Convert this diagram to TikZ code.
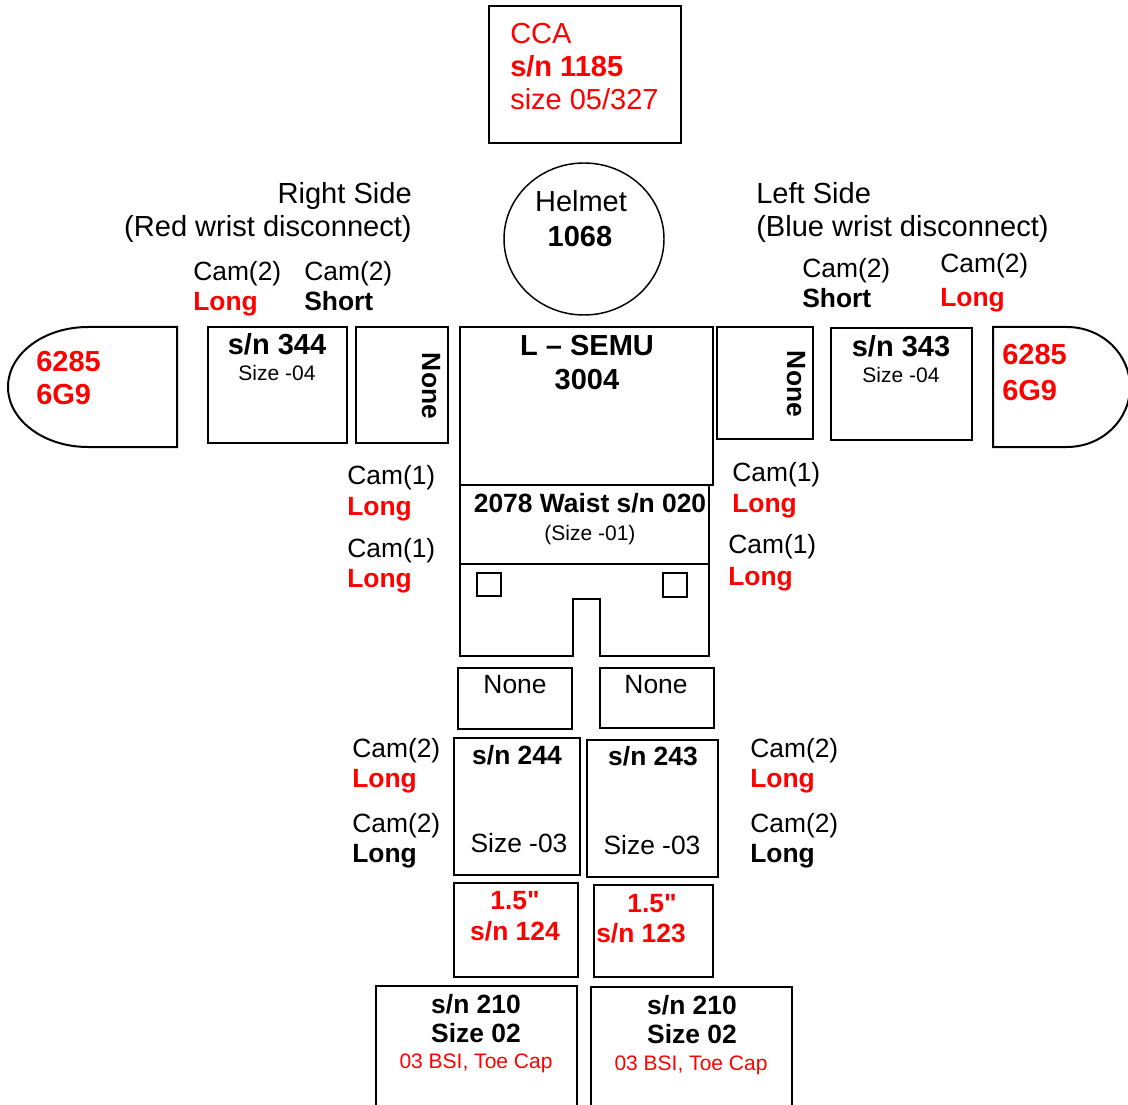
\documentclass[tikz,border=0pt]{standalone}
\usepackage{fontspec}
\setmainfont{Liberation Sans}
\newfontfamily\rawfont{Liberation Sans}
\usetikzlibrary{fit,shapes.geometric}
\definecolor{txtred}{RGB}{255,0,0}
\tikzset{
  box/.style={draw=black, line width=1.5pt, inner sep=0pt, rectangle},
  lw/.style={inner sep=0pt, anchor=base west},
  lc/.style={inner sep=0pt, anchor=base},
  le/.style={inner sep=0pt, anchor=base east},
  fbig/.style={font=\fontsize{21.75}{26}\selectfont},
  fbigb/.style={font=\fontsize{21.75}{26}\selectfont\bfseries},
  fside/.style={font=\fontsize{21.8}{26}\selectfont},
  fmed/.style={font=\fontsize{19.8}{24}\selectfont},
  fmedb/.style={font=\fontsize{19.8}{24}\selectfont\bfseries},
  fsml/.style={font=\fontsize{15.75}{19}\selectfont},
  rt/.style={text=txtred},
  outline/.style={draw=black, line width=1.5pt},
  smallsq/.style={draw=black, line width=1.2pt},
}
\begin{document}
\begin{tikzpicture}[x=0.75pt,y=-0.75pt]
\useasboundingbox (0,0) rectangle (1128,1105);
\clip (0,0) rectangle (1128,1105);
\fill[white] (0,0) rectangle (1128,1105);

% ---- CCA ----
\node[box, fit={(489,6) (681,143)}] (cca) {};
\node[lw, fbig, rt]  (cca1) at (510,44)  {CCA};
\node[lw, fbigb, rt] (cca2) at (510,77)  {s/n 1185};
\node[lw, fbig, rt]  (cca3) at (510,110) {size 05/327};

% ---- Helmet ----
\node[draw=black, line width=1.1pt, ellipse, inner sep=0pt,
      minimum width=120pt, minimum height=114pt] (helmet) at (584,239) {};
\node[lc, fbig]  (helm1) at (581,212) {Helmet};
\node[lc, fbigb] (helm2) at (580,247) {1068};

% ---- Side titles ----
\node[le, fside] (rs1) at (412,204) {Right Side};
\node[le, fside] (rs2) at (412,237) {(Red wrist disconnect)};
\node[lw, fside] (ls1) at (756,204) {Left Side};
\node[lw, fside] (ls2) at (756,237) {(Blue wrist disconnect)};

% ---- Arm cam labels ----
\node[lw, fmed]      (ac1) at (193,281) {Cam(2)};
\node[lw, fmedb, rt] (ac2) at (193,311) {Long};
\node[lw, fmed]      (ac3) at (304,281) {Cam(2)};
\node[lw, fmedb]     (ac4) at (304,311) {Short};
\node[lw, fmed]      (ac5) at (802,278) {Cam(2)};
\node[lw, fmedb]     (ac6) at (802,308) {Short};
\node[lw, fmed]      (ac7) at (940,273) {Cam(2)};
\node[lw, fmedb, rt] (ac8) at (940,307) {Long};

% ---- Gloves ----
\draw[outline] (177,327) -- (88,327)
   arc[start angle=270, end angle=90, x radius=80, y radius=60]
   -- (177,447) -- cycle;
\draw[outline] (993,327) -- (1067,327)
   arc[start angle=270, end angle=450, x radius=63, y radius=60]
   -- (993,447) -- cycle;
\node[lw, fbigb, rt] (gl1) at (36,372) {6285};
\node[lw, fbigb, rt] (gl2) at (36,405) {6G9};
\node[lw, fbigb, rt] (gr1) at (1002,365) {6285};
\node[lw, fbigb, rt] (gr2) at (1002,401) {6G9};

% ---- Arm boxes ----
\node[box, fit={(208,327) (347,443)}] (arml) {};
\node[lc, fbigb] (arml1) at (277,355) {s/n 344};
\node[lc, fsml]  (arml2) at (277,381) {Size -04};
\node[box, fit={(356,327) (448,443)}] (nonel) {};
\node[inner sep=0pt, fmedb, rotate=-90] (nonel1) at (431,386) {None};

\node[box, fit={(717,327) (813,439)}] (noner) {};
\node[inner sep=0pt, fmedb, rotate=-90] (noner1) at (796,384) {None};
\node[box, fit={(831,328) (972,440)}] (armr) {};
\node[lc, fbigb] (armr1) at (901,357) {s/n 343};
\node[lc, fsml]  (armr2) at (901,383) {Size -04};

% ---- Torso ----
\node[box, fit={(460,327) (713,485)}] (semu) {};
\node[lc, fbigb] (semu1) at (587,356) {L – SEMU};
\node[lc, fbigb] (semu2) at (587,390) {3004};

% ---- Waist ----
\draw[outline] (460,485) -- (460,656) -- (573,656) -- (573,599) -- (600,599)
   -- (600,656) -- (709,656) -- (709,485);
\draw[outline] (460,564) -- (709,564);
\draw[smallsq] (477,573) rectangle (501,596);
\draw[smallsq] (663,573) rectangle (687,597);
\node[lc, fmedb] (waist1) at (590,512) {2078 Waist s/n 020};
\node[lc, fsml]  (waist2) at (590,540) {(Size -01)};

% ---- Torso cam labels ----
\node[lw, fmed]      (tc1) at (347,484) {Cam(1)};
\node[lw, fmedb, rt] (tc2) at (347,515) {Long};
\node[lw, fmed]      (tc3) at (347,557) {Cam(1)};
\node[lw, fmedb, rt] (tc4) at (347,587) {Long};
\node[lw, fmed]      (tc5) at (732,481) {Cam(1)};
\node[lw, fmedb, rt] (tc6) at (732,512) {Long};
\node[lw, fmed]      (tc7) at (728,553) {Cam(1)};
\node[lw, fmedb, rt] (tc8) at (728,585) {Long};

% ---- Upper legs ----
\node[box, fit={(458,668) (572,729)}] (ulegl) {};
\node[lc, fmed] (ulegl1) at (515,693) {None};
\node[box, fit={(600,668) (714,728)}] (ulegr) {};
\node[lc, fmed] (ulegr1) at (656,693) {None};

% ---- Lower legs ----
\node[box, fit={(454,738) (580,875)}] (llegl) {};
\node[lc, fmedb] (llegl1) at (517,764) {s/n 244};
\node[lc, fmed]  (llegl2) at (519,852) {Size -03};
\node[box, fit={(587,740) (718,877)}] (llegr) {};
\node[lc, fmedb] (llegr1) at (653,765) {s/n 243};
\node[lc, fmed]  (llegr2) at (652,854) {Size -03};

% ---- Leg cam labels ----
\node[lw, fmed]      (lc1) at (352,757) {Cam(2)};
\node[lw, fmedb, rt] (lc2) at (352,787) {Long};
\node[lw, fmed]      (lc3) at (352,832) {Cam(2)};
\node[lw, fmedb]     (lc4) at (352,862) {Long};
\node[lw, fmed]      (lc5) at (750,757) {Cam(2)};
\node[lw, fmedb, rt] (lc6) at (750,787) {Long};
\node[lw, fmed]      (lc7) at (750,832) {Cam(2)};
\node[lw, fmedb]     (lc8) at (750,862) {Long};

% ---- Ankle boxes ----
\node[box, fit={(454,883) (578,977)}] (ankl) {};
\node[lc, fmedb, rt] (ankl1) at (515,909) {\rawfont 1.5"};
\node[lc, fmedb, rt] (ankl2) at (515,940) {s/n 124};
\node[box, fit={(594,885) (713,977)}] (ankr) {};
\node[lc, fmedb, rt] (ankr1) at (652,912) {\rawfont 1.5"};
\node[lw, fmedb, rt] (ankr2) at (596,942) {s/n 123};

% ---- Boots ----
\node[box, fit={(376,986) (577,1125)}] (bootl) {};
\node[lc, fmedb]    (bootl1) at (476,1013) {s/n 210};
\node[lc, fmedb]    (bootl2) at (476,1042) {Size 02};
\node[lc, fsml, rt] (bootl3) at (476,1068) {03 BSI, Toe Cap};
\node[box, fit={(591,987) (792,1125)}] (bootr) {};
\node[lc, fmedb]    (bootr1) at (692,1014) {s/n 210};
\node[lc, fmedb]    (bootr2) at (692,1043) {Size 02};
\node[lc, fsml, rt] (bootr3) at (691,1070) {03 BSI, Toe Cap};
\end{tikzpicture}
\end{document}
